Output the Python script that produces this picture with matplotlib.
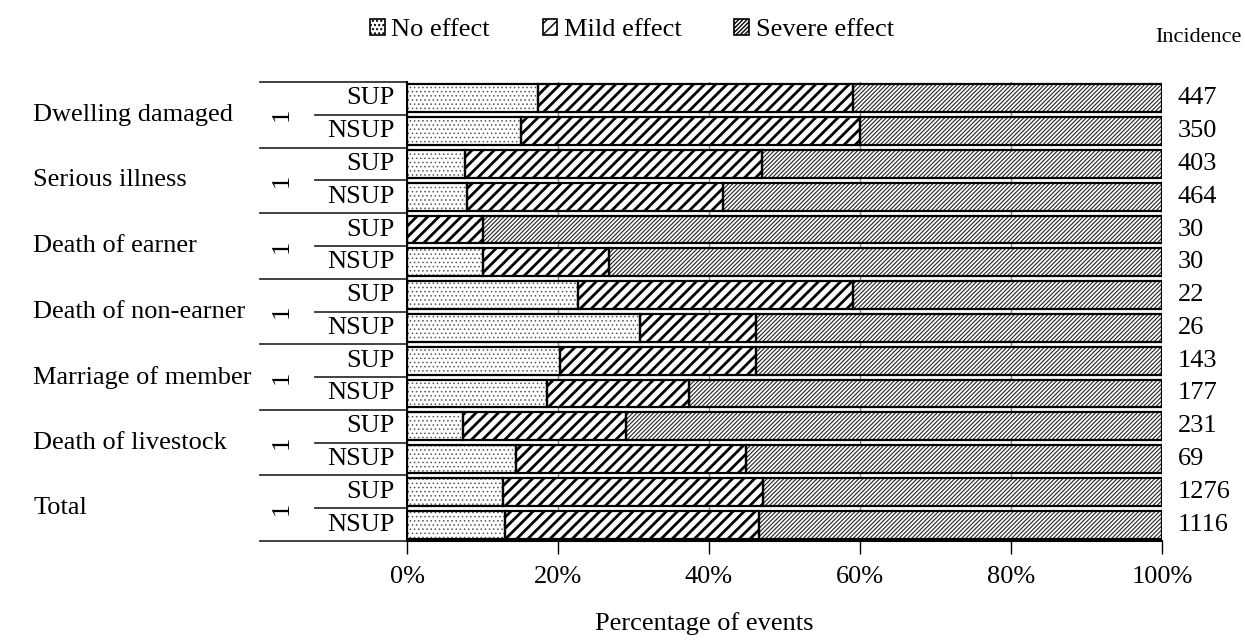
import matplotlib.pyplot as plt
from matplotlib.patches import Patch

plt.rcParams['font.family'] = ['Liberation Serif', 'DejaVu Serif']
plt.rcParams['font.size'] = 19

# Данные
categories = ['Dwelling damaged', 'Serious illness', 'Death of earner', 'Death of non-earner',
              'Marriage of member', 'Death of livestock', 'Total']
groups = ['SUP', 'NSUP']
no_effect = [17.4, 15.1, 7.7, 8.0, 0.0, 10.0, 22.7, 30.8, 20.3, 18.6, 7.4, 14.5, 12.7, 13.0]
mild_effect = [41.7, 44.9, 39.3, 33.8, 10.0, 16.7, 36.4, 15.4, 25.9, 18.7, 21.6, 30.4, 34.5, 33.6]
severe_effect = [40.9, 40.0, 53.0, 58.2, 90.0, 73.3, 40.9, 53.8, 53.8, 62.7, 71.0, 55.1, 52.8, 53.4]
incidence = [447, 350, 403, 464, 30, 30, 22, 26, 143, 177, 231, 69, 1276, 1116]
series_names = ['No effect', 'Mild effect', 'Severe effect']


def hatched_bars(ax, y, width, left, hatch, hlw, hcolor):
    # заливка штриховкой без рамки, потом рамка поверх
    with plt.rc_context({'hatch.linewidth': hlw}):
        bars = ax.barh(y, width, left=left, height=0.85, color='white',
                       edgecolor=hcolor, hatch=hatch, linewidth=0, zorder=2)
    for b in bars:
        if hasattr(b, 'set_hatch_linewidth'):
            b.set_hatch_linewidth(hlw)
    ax.barh(y, width, left=left, height=0.85, fill=False,
            edgecolor='black', linewidth=1.6, zorder=3)


styles = [('....', 0.6, '#555555'), ('///', 2.0, 'black'), ('////////', 0.8, '#222222')]

fig = plt.figure(figsize=(12.45, 6.4), dpi=100)
ax = fig.add_axes([407 / 1245, 1 - 541 / 640, 755 / 1245, 459 / 640])

rows = list(range(len(incidence)))
left = [0.0] * len(rows)
for vals, (h, hlw, hc) in zip([no_effect, mild_effect, severe_effect], styles):
    hatched_bars(ax, rows, vals, left, h, hlw, hc)
    left = [l + v for l, v in zip(left, vals)]

ax.set_xlim(0, 100)
ax.set_ylim(len(rows) - 0.5, -0.5)
ax.set_xticks(range(0, 101, 20))
ax.set_xticklabels([f'{t}%' for t in range(0, 101, 20)])
ax.set_yticks([])
ax.tick_params(axis='x', length=9, width=1, pad=9)
ax.grid(axis='x', color='#808080', linewidth=1, zorder=0)
ax.set_axisbelow(True)
for s in ['top', 'right']:
    ax.spines[s].set_visible(False)
ax.spines['left'].set_linewidth(1.5)
ax.spines['bottom'].set_linewidth(1.5)
fig.text(704 / 1245, 1 - 624 / 640, 'Percentage of events', ha='center', va='center')

# подписи слева
tr = ax.get_yaxis_transform()
for k, cat in enumerate(categories):
    yc = 2 * k + 0.5
    ax.text(-0.495, yc, cat, transform=tr, ha='left', va='center')
    ax.text(-0.166, yc, '1', transform=tr, ha='center', va='center', rotation=90)
    ax.plot([-0.195, 0], [2 * k - 0.5, 2 * k - 0.5], transform=tr, color='#333333',
            linewidth=1.3, clip_on=False)
    ax.plot([-0.122, 0], [yc, yc], transform=tr, color='#333333', linewidth=1.3, clip_on=False)
    for j, g in enumerate(groups):
        ax.text(-0.016, 2 * k + j, g, transform=tr, ha='right', va='center')
ax.plot([-0.195, 0], [len(rows) - 0.5, len(rows) - 0.5], transform=tr, color='#333333',
        linewidth=1.3, clip_on=False)

# число событий справа
for r, n in zip(rows, incidence):
    ax.text(1.021, r, str(n), transform=tr, ha='left', va='center')
fig.text(1198 / 1245, 1 - 38 / 640, 'Incidence', ha='center', va='center', fontsize=16)

handles = [Patch(facecolor='white', edgecolor='black', hatch=h, linewidth=1.2) for h, _, _ in styles]
fig.legend(handles, series_names, loc='center', bbox_to_anchor=(632 / 1245, 1 - 30 / 640),
           ncol=3, frameon=False, handlelength=0.55, handleheight=0.55, handletextpad=0.25,
           columnspacing=2.0, borderaxespad=0)

fig.savefig('out.png', dpi=100)
